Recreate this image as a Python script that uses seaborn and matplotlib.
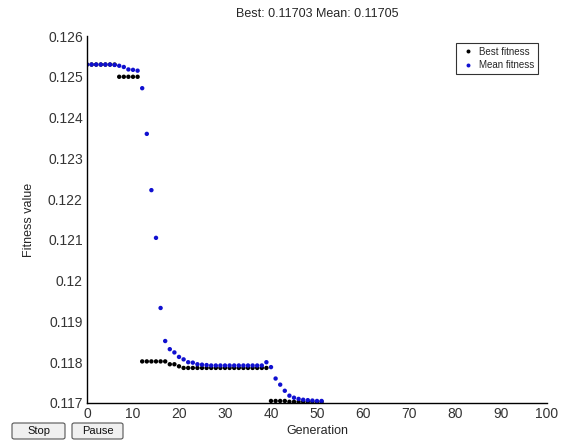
import matplotlib
matplotlib.use("Agg")
import matplotlib.pyplot as plt
import matplotlib.patches as mpatches
import matplotlib.ticker as mticker
import numpy as np
import pandas as pd
import seaborn as sns

# Values
best_fitness = [
    0.12530, 0.12530, 0.12530, 0.12530, 0.12530, 0.12530, 0.12530,
    0.12500, 0.12500, 0.12500, 0.12500, 0.12500,
    0.11802, 0.11802, 0.11802, 0.11802, 0.11802, 0.11802,
    0.11795, 0.11795, 0.11790,
    0.11786, 0.11786, 0.11786, 0.11786, 0.11786, 0.11786, 0.11786,
    0.11786, 0.11786, 0.11786, 0.11786, 0.11786, 0.11786, 0.11786,
    0.11786, 0.11786, 0.11786, 0.11786, 0.11786,
    0.11705, 0.11705, 0.11705, 0.11705,
    0.11703, 0.11703, 0.11703, 0.11703, 0.11703, 0.11703, 0.11703, 0.11703,
]
mean_fitness = [
    0.12530, 0.12530, 0.12530, 0.12530, 0.12530, 0.12530, 0.12529,
    0.12527, 0.12524, 0.12518, 0.12517, 0.12515,
    0.12472, 0.12360, 0.12222, 0.12105, 0.11933, 0.11852,
    0.11832, 0.11824, 0.11813, 0.11807, 0.11800, 0.11799,
    0.11795, 0.11794, 0.11793, 0.11792, 0.11792,
    0.11792, 0.11792, 0.11792, 0.11792, 0.11792, 0.11792, 0.11792,
    0.11792, 0.11792, 0.11792,
    0.11800, 0.11788, 0.11760, 0.11745, 0.11730, 0.11718, 0.11713,
    0.11710, 0.11708, 0.11707, 0.11706, 0.11705, 0.11705,
]
generation = np.arange(len(best_fitness))

x_ticks = [0, 10, 20, 30, 40, 50, 60, 70, 80, 90, 100]
y_ticks = [0.117, 0.118, 0.119, 0.120, 0.121, 0.122, 0.123, 0.124, 0.125, 0.126]

df = pd.DataFrame({
    "Generation": np.concatenate([generation, generation]),
    "Fitness": best_fitness + mean_fitness,
    "Series": ["Best fitness"] * len(best_fitness) + ["Mean fitness"] * len(mean_fitness),
})

sns.set_style("white")
plt.rcParams["font.family"] = ["Liberation Sans", "DejaVu Sans"]
plt.rcParams["font.size"] = 9

fig = plt.figure(figsize=(5.64, 4.41), dpi=100)
ax = fig.add_axes([87 / 564, 38 / 441, 460 / 564, 367 / 441])

sns.scatterplot(
    data=df, x="Generation", y="Fitness", hue="Series",
    palette={"Best fitness": "#000000", "Mean fitness": "#1010d0"},
    marker="o", s=10, linewidth=0, ax=ax,
)

ax.set_xlim(0, 100)
ax.set_ylim(0.117, 0.126)
ax.set_xticks(x_ticks)
ax.set_yticks(y_ticks)
ax.yaxis.set_major_formatter(mticker.FuncFormatter(lambda v, _: f"{v:g}"))
ax.tick_params(direction="in", length=4, width=0.8, colors="black",
               labelsize=10, labelcolor="#333333", pad=3)
ax.spines["top"].set_visible(False)
ax.spines["right"].set_visible(False)
for side in ("left", "bottom"):
    ax.spines[side].set_color("black")
    ax.spines[side].set_linewidth(1.0)

ax.set_xlabel("Generation", fontsize=9, labelpad=3)
ax.set_ylabel("Fitness value", fontsize=9, labelpad=9)
ax.set_title("Best: 0.11703 Mean: 0.11705", fontsize=9, pad=14)

leg = ax.legend(loc="upper right", bbox_to_anchor=(0.991, 0.995), fontsize=7,
                frameon=True, fancybox=False, edgecolor="black",
                markerscale=0.9, handletextpad=0.3, borderpad=0.4,
                labelspacing=0.35, handlelength=1.6)
leg.get_frame().set_linewidth(0.8)

# Stop / Pause buttons of the GA window (pixel boxes -> figure fraction)
W, H = 564, 441
for label, x0, x1 in [("Stop", 12, 65), ("Pause", 72, 123)]:
    box = mpatches.FancyBboxPatch(
        (x0 / W, 1 - 439 / H), (x1 - x0) / W, 16 / H,
        boxstyle="round,pad=0,rounding_size=0.004",
        transform=fig.transFigure, facecolor="#f0f0f0",
        edgecolor="#555555", linewidth=0.8,
    )
    fig.patches.append(box)
    fig.text((x0 + x1) / 2 / W, 1 - 431 / H, label, ha="center", va="center",
             fontsize=8, color="#111111")

fig.savefig("out.png", dpi=100)
